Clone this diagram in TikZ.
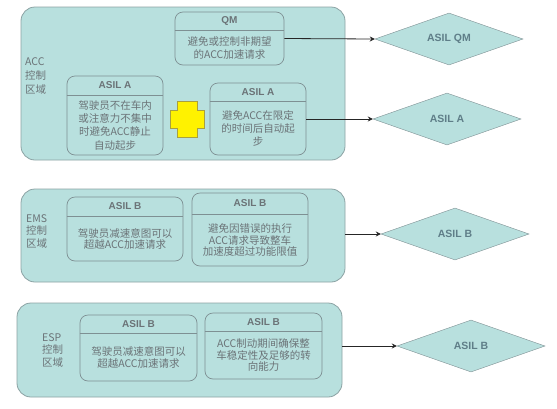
\documentclass[tikz,border=0pt]{standalone}
\usepackage{fontspec}
\setmainfont{Noto Sans CJK SC}
\newfontfamily\latinfont{Liberation Sans}
\usetikzlibrary{arrows.meta, positioning, shapes.geometric, calc}

\definecolor{zonefill}{HTML}{B8E0DE}
\definecolor{zoneline}{HTML}{8CA3A4}
\definecolor{boxline}{HTML}{7E9093}
\definecolor{txtgray}{HTML}{6B7377}
\definecolor{diamtxt}{HTML}{5F7E88}
\definecolor{plusfill}{HTML}{FFF200}
\definecolor{plusline}{HTML}{A8A040}

\begin{document}
\begin{tikzpicture}[
  x=1pt, y=-1pt,
  zone/.style={draw=zoneline, fill=zonefill, rounded corners=14pt, line width=0.8pt},
  asilbox/.style={draw=boxline, fill=zonefill, rounded corners=8pt, line width=0.7pt},
  hdr/.style={anchor=north, inner sep=0pt, minimum height=19pt, text=txtgray,
              font=\latinfont\bfseries\fontsize{10}{12}\selectfont},
  body/.style={inner sep=0pt, align=center, text=txtgray},
  zonelbl/.style={anchor=west, inner sep=0pt, align=left, text=txtgray,
                  font=\fontsize{10.5}{14}\selectfont},
  diam/.style={diamond, draw=boxline, fill=zonefill, minimum width=148pt, minimum height=52pt,
               inner sep=0pt, aspect=2.8, text=diamtxt,
               font=\latinfont\bfseries\fontsize{10.5}{12}\selectfont},
  arr/.style={-{Stealth[length=5pt, width=5pt]}, line width=0.8pt, black!85}
]
  \useasboundingbox[fill=white] (0,0) rectangle (557,408);

  % ACC zone
  \node[zone, minimum width=324pt, minimum height=153pt] (acc) at (183,83.5) {};
  \node[zonelbl] (acclbl) at (25,76) {ACC\\控制\\区域};

  \node[asilbox, minimum width=109pt, minimum height=53pt] (qm) at (229.5,38.5) {};
  \node[hdr, minimum height=18pt] (qmh) at (qm.north) {QM};
  \draw[boxline, line width=0.7pt] (qm.west |- qmh.south) -- (qm.east |- qmh.south);
  \node[body, below=0pt of qmh, minimum height=35pt, font=\fontsize{10.5}{13}\selectfont] (qmb)
    {避免或控制非期望\\的ACC加速请求};

  \node[asilbox, minimum width=96pt, minimum height=79pt] (aleft) at (115,115.5) {};
  \node[hdr] (alefth) at (aleft.north) {ASIL A};
  \draw[boxline, line width=0.7pt] (aleft.west |- alefth.south) -- (aleft.east |- alefth.south);
  \node[body, below=0pt of alefth, minimum height=60pt, font=\fontsize{10.5}{13.3}\selectfont] (aleftb)
    {驾驶员不在车内\\或注意力不集中\\时避免ACC静止\\自动起步};

  \node[asilbox, minimum width=96pt, minimum height=72pt] (aright) at (258,119) {};
  \node[hdr, minimum height=18pt] (arighth) at (aright.north) {ASIL A};
  \draw[boxline, line width=0.7pt] (aright.west |- arighth.south) -- (aright.east |- arighth.south);
  \node[body, below=0pt of arighth, minimum height=54pt, font=\fontsize{10.5}{13.3}\selectfont] (arightb)
    {避免ACC在限定\\的时间后自动起\\步};

  % yellow plus between the two ASIL A boxes
  \coordinate (plus) at (187,119);
  \draw[plusline, fill=plusfill, line width=0.6pt]
    ($(plus)+(-10,-18)$) -- ++(20,0) -- ++(0,9) -- ++(7,0) -- ++(0,18) -- ++(-7,0)
    -- ++(0,9) -- ++(-20,0) -- ++(0,-9) -- ++(-7,0) -- ++(0,-18) -- ++(7,0) -- cycle;

  % EMS zone
  \node[zone, minimum width=324pt, minimum height=93pt] (ems) at (183,235.5) {};
  \node[zonelbl, font=\fontsize{10.5}{12.5}\selectfont] (emslbl) at (26,231) {EMS\\控制\\区域};

  \node[asilbox, minimum width=116pt, minimum height=64pt] (eone) at (125,229) {};
  \node[hdr] (eoneh) at (eone.north) {ASIL B};
  \draw[boxline, line width=0.7pt] (eone.west |- eoneh.south) -- (eone.east |- eoneh.south);
  \node[body, below=0pt of eoneh, minimum height=45pt, font=\fontsize{10.5}{11.5}\selectfont] (eoneb)
    {驾驶员减速意图可以\\超越ACC加速请求};

  \node[asilbox, minimum width=116pt, minimum height=73pt] (etwo) at (250,229.5) {};
  \node[hdr, minimum height=21pt] (etwoh) at (etwo.north) {ASIL B};
  \draw[boxline, line width=0.7pt] (etwo.west |- etwoh.south) -- (etwo.east |- etwoh.south);
  \node[body, below=0pt of etwoh, minimum height=52pt, font=\fontsize{10.5}{11.5}\selectfont] (etwob)
    {避免因错误的执行\\ACC请求导致整车\\加速度超过功能限值};

  % ESP zone
  \node[zone, minimum width=325pt, minimum height=94pt] (esp) at (179.5,350) {};
  \node[zonelbl, font=\fontsize{10.5}{12.5}\selectfont] (esplbl) at (42,350) {ESP\\控制\\区域};

  \node[asilbox, minimum width=117pt, minimum height=66pt] (sone) at (138.5,348) {};
  \node[hdr, minimum height=18pt] (soneh) at (sone.north) {ASIL B};
  \draw[boxline, line width=0.7pt] (sone.west |- soneh.south) -- (sone.east |- soneh.south);
  \node[body, below=0pt of soneh, minimum height=48pt, font=\fontsize{10.5}{11.5}\selectfont] (soneb)
    {驾驶员减速意图可以\\超越ACC加速请求};

  \node[asilbox, minimum width=117pt, minimum height=66pt] (stwo) at (263.5,346) {};
  \node[hdr, minimum height=18pt] (stwoh) at (stwo.north) {ASIL B};
  \draw[boxline, line width=0.7pt] (stwo.west |- stwoh.south) -- (stwo.east |- stwoh.south);
  \node[body, below=0pt of stwoh, minimum height=48pt, font=\fontsize{10.5}{11.5}\selectfont] (stwob)
    {ACC制动期间确保整\\车稳定性及足够的转\\向能力};

  % resulting ASIL levels
  \node[diam] (dqm) at (449,39) {ASIL QM};
  \node[diam] (da)  at (447,119) {ASIL A};
  \node[diam] (dbe) at (455,234) {ASIL B};
  \node[diam] (dbs) at (471,346) {ASIL B};

  % arrows
  \draw[arr] (qm.east) -- (dqm.west);
  \draw[arr] (aright.east) -- (da.west);
  \draw[arr] (ems.east |- dbe.west) -- (dbe.west);
  \draw[arr] (esp.east |- dbs.west) -- (dbs.west);
\end{tikzpicture}
\end{document}
